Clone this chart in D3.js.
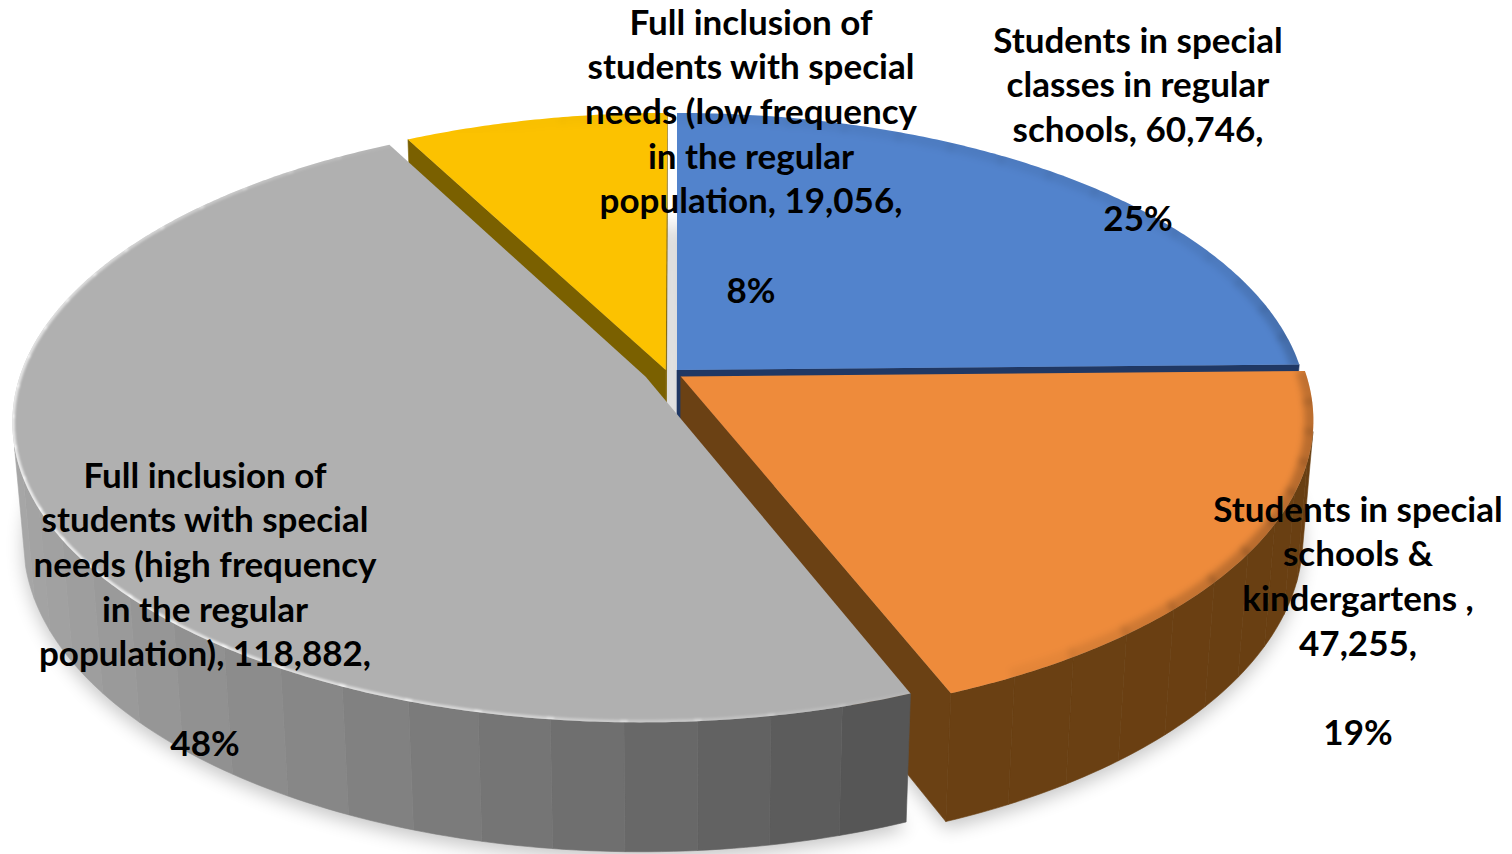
<!DOCTYPE html>
<html>
<head>
<meta charset="utf-8">
<script src="https://cdn.jsdelivr.net/npm/d3@7/dist/d3.min.js"></script>
<style>
  html, body { margin: 0; padding: 0; background: #ffffff; }
  svg { display: block; }
  .lbl { font-family: Lato, "Open Sans", sans-serif; font-weight: 700; fill: #000; }
</style>
</head>
<body>
<svg id="chart" width="1512" height="854"></svg>
<script>
// ---- data ----
const categories = [
  "Students in special classes in regular schools",
  "Students in special schools & kindergartens",
  "Full inclusion of students with special needs (high frequency in the regular population)",
  "Full inclusion of students with special needs (low frequency in the regular population)"
];
const values = [60746, 47255, 118882, 19056];
// wrapped data-label text; {v} is replaced by the formatted value
const labelLines = [
  ["Students in special", "classes in regular", "schools, {v},"],
  ["Students in special", "schools &", "kindergartens ,", "{v},"],
  ["Full inclusion of", "students with special", "needs (high frequency", "in the regular", "population), {v},"],
  ["Full inclusion of", "students with special", "needs (low frequency", "in the regular", "population, {v},"]
];

// ---- styles & layout ----
const sliceStyle = [
  { top: "#5283CC", sideLight: "#22406f", sideDark: "#1c345c", face: "#203864" },
  { top: "#EE8B3B", sideLight: "#6d4215", sideDark: "#693f12", face: "#6B4114" },
  { top: "#B0B0B0", sideLight: "#a8a8a8", sideDark: "#2c2c2c", face: "#5a5a5a" },
  { top: "#FCC200", sideLight: "#806500", sideDark: "#755c00", face: "#7A6000" }
];
// slice displacement on the pie plane (x to the right, z toward the viewer)
const sliceOffset = [[0, 0], [0.006, 0.022], [-0.050, 0.023], [-0.018, 0]];
const labelLayout = [
  { x: 1138, y: 40 },
  { x: 1358, y: 509 },
  { x: 205, y: 475 },
  { x: 751, y: 22 }
];
const lineStep = 44.7;
const fontSize = 35;

const view = { cx: 677, cy: 370, f: 624, tilt: 28.1 * Math.PI / 180, dist: 6.15, depth: 0.215 };
const sa = Math.sin(view.tilt), ca = Math.cos(view.tilt);
const camPos = [0, view.dist * sa, view.dist * ca];
const wallLight = [-1, 0, 0];          // side walls lit from the left
const rimLightDir = [-0.906, 0, 0.423]; // bevel highlight from the front-left

function project(p) {
  const [X, Y, Z] = p;
  const yc = Y * ca - Z * sa;
  const zc = Y * sa + Z * ca;
  const s = view.dist / (view.dist - zc);
  return [view.cx + view.f * X * s, view.cy - view.f * yc * s];
}
function facing(n, p) {
  return n[0] * (camPos[0] - p[0]) + n[1] * (camPos[1] - p[1]) + n[2] * (camPos[2] - p[2]) > 0;
}
const rimPt = (o, th, Y) => [o[0] + Math.sin(th), Y, o[1] - Math.cos(th)];
const line = d3.line();
const poly = pts => line(pts.map(project)) + "Z";

const svg = d3.select("#chart");
const defs = svg.append("defs");
defs.append("filter").attr("id", "shadowBlur").attr("x", "-20%").attr("y", "-20%")
  .attr("width", "140%").attr("height", "140%")
  .append("feGaussianBlur").attr("stdDeviation", 9);
defs.append("filter").attr("id", "rimBlur").attr("x", "-10%").attr("y", "-10%")
  .attr("width", "120%").attr("height", "120%")
  .append("feGaussianBlur").attr("stdDeviation", 3);
defs.append("filter").attr("id", "hiBlur")
  .append("feGaussianBlur").attr("stdDeviation", 0.9);

const total = d3.sum(values);
const fmt = d3.format(",");
const pie = d3.pie().sort(null).value(d => d).startAngle(0).endAngle(2 * Math.PI);
const arcs = pie(values);
const deg = Math.PI / 180;

function arcSamples(a0, a1, step) {
  const n = Math.max(2, Math.ceil((a1 - a0) / step));
  return d3.range(n + 1).map(k => a0 + (a1 - a0) * k / n);
}

const slices = arcs.map((a, i) => {
  const o = sliceOffset[i];
  const ths = arcSamples(a.startAngle, a.endAngle, 0.5 * deg);
  const nearest = d3.max([o[1], ...ths.map(t => o[1] - Math.cos(t))]);
  return { i, a, o, ths, nearest };
});

// ---- ground shadow ----
const shadowG = svg.append("g").attr("filter", "url(#shadowBlur)")
  .attr("transform", "translate(0,7)").attr("opacity", 0.22);
slices.forEach(s => {
  const pts = [[s.o[0], -view.depth, s.o[1]], ...s.ths.map(t => rimPt(s.o, t, -view.depth))];
  shadowG.append("path").attr("d", poly(pts)).attr("fill", "#000");
});

// ---- slices, back to front ----
const sorted = slices.slice().sort((p, q) => d3.ascending(p.nearest, q.nearest));
sorted.forEach(s => {
  const st = sliceStyle[s.i];
  const g = svg.append("g").attr("class", "slice");
  const o = s.o, a0 = s.a.startAngle, a1 = s.a.endAngle, dpt = view.depth;
  const cTop = [o[0], 0, o[1]], cBot = [o[0], -dpt, o[1]];

  // radial faces
  [[a0, -1], [a1, 1]].forEach(([th, sgn]) => {
    const n = [sgn * Math.cos(th), 0, sgn * Math.sin(th)];
    const mid = [o[0] + 0.5 * Math.sin(th), -dpt / 2, o[1] - 0.5 * Math.cos(th)];
    if (!facing(n, mid)) return;
    const pts = [cTop, rimPt(o, th, 0), rimPt(o, th, -dpt), cBot];
    g.append("path").attr("d", poly(pts)).attr("fill", st.face)
      .attr("stroke", st.face).attr("stroke-width", 0.6);
  });

  // outer wall, in flat-shaded facets
  const side = d3.interpolateRgb(st.sideDark, st.sideLight);
  const buckets = arcSamples(a0, a1, 6 * deg);
  for (let k = 0; k < buckets.length - 1; k++) {
    const t0 = buckets[k], t1 = buckets[k + 1], tm = (t0 + t1) / 2;
    const n = [Math.sin(tm), 0, -Math.cos(tm)];
    if (!facing(n, rimPt(o, tm, -dpt / 2))) continue;
    const sub = arcSamples(t0, t1, 1 * deg);
    const pts = [...sub.map(t => rimPt(o, t, 0)), ...sub.slice().reverse().map(t => rimPt(o, t, -dpt))];
    const dot = n[0] * wallLight[0] + n[2] * wallLight[2];
    const c = side(Math.max(0, Math.min(1, (dot + 1) / 2)));
    g.append("path").attr("d", poly(pts)).attr("fill", c).attr("stroke", c).attr("stroke-width", 0.6);
  }

  // top face
  const topPts = [cTop, ...s.ths.map(t => rimPt(o, t, 0))];
  const topD = poly(topPts);
  g.append("path").attr("d", topD).attr("fill", st.top);

  // bevel shading along the rim, kept inside the top face
  const clipId = "clip" + s.i;
  defs.append("clipPath").attr("id", clipId).append("path").attr("d", topD);
  const rim = g.append("g").attr("clip-path", `url(#${clipId})`);
  const rimDark = rim.append("g").attr("filter", "url(#rimBlur)");
  const rimHi = rim.append("g").attr("filter", "url(#hiBlur)");
  for (let k = 0; k < buckets.length - 1; k++) {
    const t0 = buckets[k], t1 = buckets[k + 1], tm = (t0 + t1) / 2;
    const dot = Math.sin(tm) * rimLightDir[0] - Math.cos(tm) * rimLightDir[2];
    const sub = arcSamples(t0 - 0.3 * deg, t1 + 0.3 * deg, 1 * deg).map(t => project(rimPt(o, t, 0)));
    if (dot < 0) {
      // darker bevel on the right, strongest toward the front
      const w = Math.max(0.15, Math.min(1, 0.45 - 0.8 * Math.cos(tm)));
      rimDark.append("path").attr("d", line(sub)).attr("fill", "none")
        .attr("stroke", "#000").attr("stroke-opacity", -dot * 0.45 * w).attr("stroke-width", 18);
    } else {
      rimHi.append("path").attr("d", line(sub)).attr("fill", "none")
        .attr("stroke", "#fff").attr("stroke-opacity", dot * 0.75).attr("stroke-width", 5);
    }
  }
});

// ---- data labels ----
arcs.forEach((a, i) => {
  const L = labelLayout[i];
  const lines = labelLines[i].map(t => t.replace("{v}", fmt(values[i])));
  lines.push("");
  lines.push(Math.round(100 * values[i] / total) + "%");
  const t = svg.append("text").attr("class", "lbl").attr("text-anchor", "middle")
    .attr("font-size", fontSize);
  lines.forEach((ln, k) => {
    if (!ln) return;
    t.append("tspan").attr("x", L.x).attr("y", L.y + k * lineStep).attr("dy", "0.36em").text(ln);
  });
});
</script>
</body>
</html>
